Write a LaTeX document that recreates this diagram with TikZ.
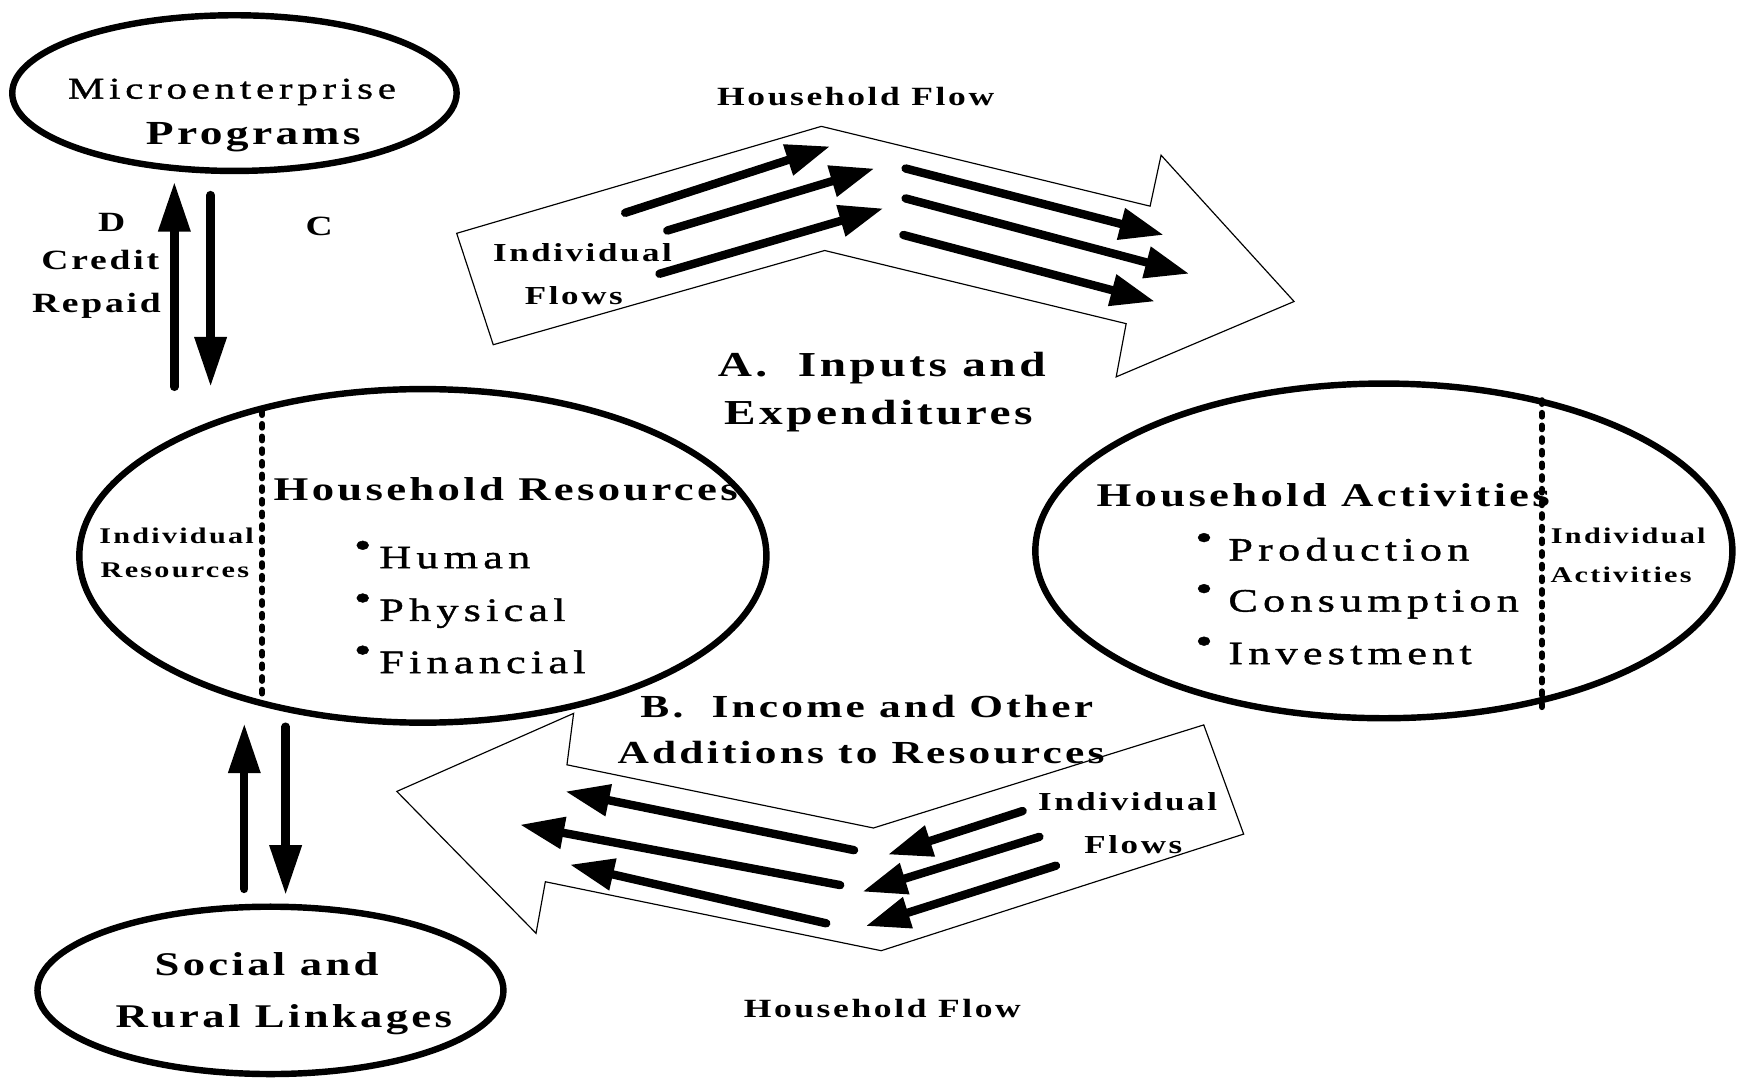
\documentclass[tikz,border=0pt]{standalone}
\usepackage{fontspec}
\setmainfont{Liberation Serif}[FakeStretch=1.35,LetterSpace=10]
\newfontfamily\airy{Liberation Serif}[FakeStretch=1.35,LetterSpace=16,FakeBold=1.2]
\usetikzlibrary{shapes.geometric,arrows.meta}

\newcommand{\fsz}[1]{\fontsize{#1pt}{#1pt}\selectfont}
\newcommand{\dotitem}[2]{\makebox[#1][l]{\smash{\raisebox{5.5pt}{\fsz{19}\textbullet}}}#2}

\tikzset{
    blob/.style={draw,ellipse,line width=3.3pt,inner sep=0pt},
    lbl/.style={inner sep=0pt,text depth=0pt},
    bigtxt/.style={lbl,font=\fsz{17}\bfseries},
    smalltxt/.style={lbl,font=\fsz{13.3}\bfseries},
    tinytxt/.style={lbl,font=\fsz{11.5}\bfseries},
    itemtxt/.style={lbl,anchor=west,font=\fsz{16.8}\airy},
    flowbox/.style={draw,line width=0.6pt},
    flowarrow/.style={line width=4.3pt,line cap=round,-{Triangle[length=0.8cm,width=0.55cm]}},
    linkarrow/.style={line width=4.3pt,line cap=round,-{Triangle[length=0.9cm,width=0.55cm]}},
    divider/.style={line width=3pt,line cap=round,dash pattern=on 2pt off 4.5pt},
}

\begin{document}
\begin{tikzpicture}[x=0.02cm,y=-0.02cm]
    \useasboundingbox (0,0) rectangle (1568,973);

    % ovals
    \node[blob,minimum width=8.02cm,minimum height=2.81cm] (micro) at (211.5,84) {};
    \node[blob,minimum width=12.4cm,minimum height=6.02cm] (res) at (381.5,501.5) {};
    \node[blob,minimum width=12.58cm,minimum height=6.04cm] (act) at (1248.5,497) {};
    \node[blob,minimum width=8.41cm,minimum height=3.02cm] (social) at (244,893.5) {};

    % individual parts
    \draw[divider] (236.5,371) -- (236.5,630);
    \draw[divider] (1391,361) -- (1391,638);

    % household flows
    \draw[flowbox] (412,210.5) -- (741,114) -- (1037.6,186) -- (1047.5,140) -- (1167.5,272)
        -- (1007,340) -- (1016,292) -- (744,226) -- (445,311) -- cycle;
    \draw[flowbox] (358,714) -- (517.5,643.6) -- (511.5,690) -- (788,747) -- (1086,654)
        -- (1122,752.5) -- (795,857.7) -- (492,795.5) -- (483.6,842) -- cycle;

    % individual flows
    \foreach \sx/\sy/\tx/\ty in {564/192/749/132, 602/208/789/152, 595/247/797/188,
                                 817/152/1050/212, 817/179/1073/247, 815/212/1042/272,
                                 922.6/731.7/801/771, 937.7/755/778/804.5, 952.7/781/781/835.5,
                                 770.5/767/510/714, 758/798.5/469/744, 745.4/833/514/780}
        \draw[flowarrow] (\sx,\sy) -- (\tx,\ty);

    % credit and repayment
    \coordinate (repaidfoot) at (157.3,349);
    \coordinate (repaidtip) at (157.3,164);
    \coordinate (creditfoot) at (190,176);
    \coordinate (credittip) at (190,349);
    \draw[linkarrow] (repaidfoot) -- (repaidtip);
    \draw[linkarrow] (creditfoot) -- (credittip);

    % linkages
    \coordinate (linkupfoot) at (220.4,802);
    \coordinate (linkuptip) at (220.4,652.6);
    \coordinate (linkdownfoot) at (257.7,655.6);
    \coordinate (linkdowntip) at (257.7,807.5);
    \draw[linkarrow] (linkupfoot) -- (linkuptip);
    \draw[linkarrow] (linkdownfoot) -- (linkdowntip);

    % labels
    \node[lbl,font=\fsz{15.5}\airy] (microtop) at (209.3,80) {Microenterprise};
    \node[lbl,font=\fsz{17.3}\bfseries] (microbot) at (228.5,120) {Programs};
    \node[lbl,font=\fsz{14.3}\bfseries] (dlbl) at (100.7,201) {D};
    \node[lbl,font=\fsz{14.3}\bfseries] (credit) at (90.5,234.6) {Credit};
    \node[lbl,font=\fsz{14.3}\bfseries] (repaid) at (87,273.6) {Repaid};
    \node[lbl,font=\fsz{14.3}\bfseries] (clbl) at (288,204.5) {C};

    \node[lbl,font=\fsz{13.5}\bfseries] (hhflowa) at (772,87) {Household Flow};
    \node[smalltxt] (indiva) at (525.5,227.7) {Individual};
    \node[smalltxt] (flowsa) at (517.7,267) {Flows};
    \node[lbl,font=\fsz{18}\bfseries] (inputs) at (795.5,328.6) {A.\ \ Inputs and};
    \node[lbl,font=\fsz{18}\bfseries] (expend) at (792.4,372) {Expenditures};

    \node[bigtxt,anchor=west] (reshead) at (246.6,441) {Household Resources};
    \node[tinytxt] (resind) at (159.3,483.5) {Individual};
    \node[tinytxt] (resres) at (157.8,514) {Resources};
    \foreach \y/\t [count=\i] in {503/Human,550/Physical,597/Financial}
        \node[itemtxt] (resitem\i) at (319,\y) {\dotitem{13pt}{\t}};

    \node[bigtxt,anchor=west] (acthead) at (989,446.7) {Household Activities};
    \node[tinytxt] (actind) at (1469,483.5) {Individual};
    \node[tinytxt] (actact) at (1462.5,518.8) {Activities};
    \foreach \y/\t [count=\i] in {495.5/Production,542/Consumption,589.5/Investment}
        \node[itemtxt] (actitem\i) at (1078,\y) {\dotitem{17pt}{\t}};

    \node[lbl,font=\fsz{16.5}\bfseries] (income) at (782,637.5) {B.\ \ Income and Other};
    \node[lbl,font=\fsz{16.5}\bfseries] (additions) at (776.8,679) {Additions to Resources};
    \node[smalltxt] (indivb) at (1017.3,722.7) {Individual};
    \node[smalltxt] (flowsb) at (1022.5,761.5) {Flows};
    \node[lbl,font=\fsz{13.5}\bfseries] (hhflowb) at (796,909.5) {Household Flow};

    \node[bigtxt] (socialtop) at (240.5,870) {Social and};
    \node[bigtxt] (socialbot) at (256,916.5) {Rural Linkages};
\end{tikzpicture}
\end{document}
